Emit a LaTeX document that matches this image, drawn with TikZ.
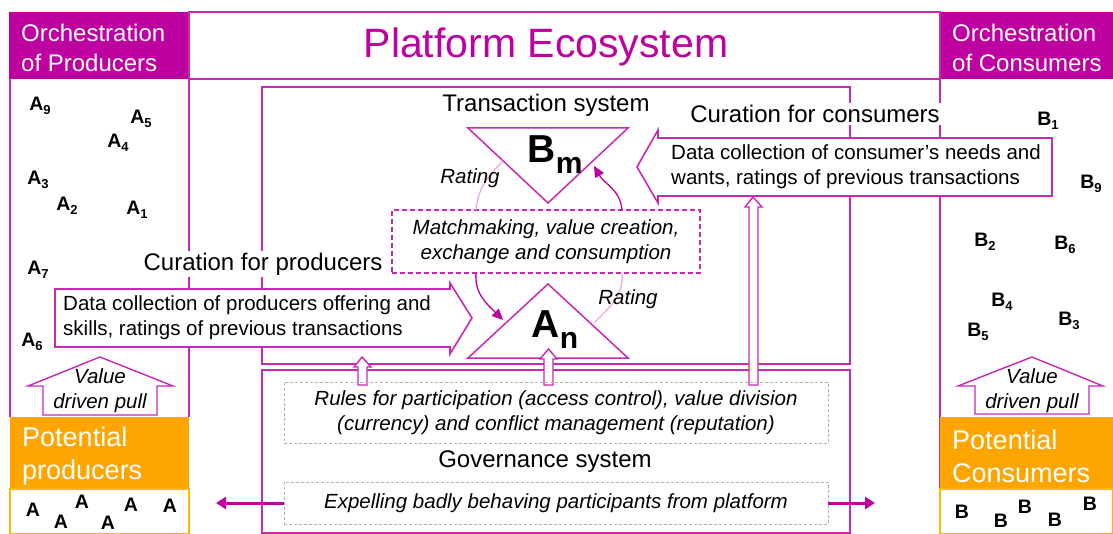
\documentclass[tikz,border=0pt]{standalone}
\usepackage{fontspec}
\setmainfont{Liberation Sans}
\usetikzlibrary{arrows.meta}
\definecolor{mag}{RGB}{190,0,160}
\definecolor{lmag}{RGB}{200,40,180}
\definecolor{pmag}{RGB}{235,170,225}
\definecolor{org}{RGB}{255,165,0}
\newcommand\fsz[2]{\fontsize{#1}{#2}\selectfont}
\newcommand\Lsub[2]{#1\raisebox{-4pt}{\fsz{13}{13}#2}}
\begin{document}
\begin{tikzpicture}[x=1pt,y=-1pt,
  mline/.style={draw=lmag,line width=1.6pt},
  hdr/.style={text=white,font=\fsz{24}{29.5},align=left,anchor=west,inner sep=0pt},
  lbl/.style={font=\fsz{24}{28},fill=white,inner sep=2pt},
  dat/.style={font=\fsz{20.5}{25},align=left,anchor=west,inner sep=0pt},
  itl/.style={font=\itshape\fsz{20.5}{25},align=center,inner sep=0pt},
  ltr/.style={font=\bfseries\fsz{19.5}{22},inner sep=0pt},
  pot/.style={text=white,font=\fsz{27}{33},align=left,anchor=west,inner sep=0pt},
  hollow/.style={draw=lmag,line width=1.4pt,fill=white},
  gbox/.style={draw=gray!60,dash pattern=on 3pt off 2pt,line width=0.8pt},
  thick arrow/.style={draw=mag,line width=3pt,-{Triangle[length=10pt,width=12pt]}}
]
\useasboundingbox (0,0) rectangle (1113,534);
% headers
\fill[mag] (9,12) rectangle (189,79);
\fill[mag] (940,12) rectangle (1113,79);
\node[hdr] (hl) at (21,48) {Orchestration\\of Producers};
\node[hdr] (hr) at (952,48) {Orchestration\\of Consumers};
\draw[mline] (189,12) rectangle (940,79);
\node[font=\fsz{41}{46},text=mag] (title) at (546,47) {Platform Ecosystem};
% column lines
\draw[mline] (10,79) -- (10,417);
\draw[mline] (189,79) -- (189,417);
\draw[mline] (940,79) -- (940,534);
% transaction & governance boxes
\draw[mline] (262,87) rectangle (850,364);
\draw[mline] (262,370) rectangle (850,533);
% potential boxes
\fill[org] (10,417) rectangle (189,489);
\fill[org] (940,417) rectangle (1113,489);
\draw[org!80!yellow,line width=1.2pt] (10,489) rectangle (189,534);
\draw[org!80!yellow,line width=1.2pt] (940,489) rectangle (1113,534);
\node[pot] (pp) at (22,456) {Potential\\producers};
\node[pot] (pc) at (952,456) {Potential\\Consumers};
% transaction system
\node[font=\fsz{24}{28}] (ts) at (546,105) {Transaction system};
\draw[draw=lmag,line width=1.5pt,fill=white] (468,128) -- (628,128) -- (548,203) -- cycle;
\node[font=\bfseries\fsz{39}{40},inner sep=0pt] (bm) at (555,155) {B\raisebox{-11pt}{\fsz{30}{30}m}};
\draw[draw=lmag,line width=1.5pt,fill=white] (468,358) -- (628,358) -- (548,284) -- cycle;
\node[font=\bfseries\fsz{39}{40},inner sep=0pt] (an) at (555,330) {A\raisebox{-11pt}{\fsz{30}{30}n}};
% matchmaking box
\node[draw=lmag,dash pattern=on 5pt off 3pt,line width=1.1pt,fill=white,minimum width=308pt,minimum height=63pt,inner sep=0pt] (mm) at (546,241.5) {};
\node[itl] (mmt) at (546,241.5) {Matchmaking, value creation,\\exchange and consumption};
\coordinate (bmR) at (594,166);
\coordinate (bmL) at (503,161);
\coordinate (anL) at (503,320);
\coordinate (anR) at (594,323);
\draw[draw=mag,line width=1.3pt,-{Triangle[length=11pt,width=10pt]}] (622,210) to[out=95,in=-60] (bmR);
\draw[draw=mag,line width=1.3pt,-{Triangle[length=11pt,width=10pt]}] (476,273) to[out=-95,in=135] (anL);
\draw[draw=pmag,line width=1.3pt] (476,210) to[out=85,in=-135] (bmL);
\draw[draw=pmag,line width=1.3pt] (622,273) to[out=-85,in=45] (anR);
\node[itl] (r1) at (470,178) {Rating};
\node[itl] (r2) at (628,299) {Rating};
% curation for consumers
\node[lbl] (cc) at (815,114) {Curation for consumers};
\draw[hollow,line width=1.6pt] (1052,138) -- (658,138) -- (658,130) -- (637,167) -- (658,203) -- (658,196) -- (1052,196) -- cycle;
\node[dat] (cct) at (671,167) {Data collection of consumer’s needs and\\wants, ratings of previous transactions};
% curation for producers
\node[lbl] (cp) at (263,264) {Curation for producers};
\draw[hollow,line width=1.6pt] (55,289) -- (450,289) -- (450,283) -- (472,318) -- (450,354) -- (450,347) -- (55,347) -- cycle;
\node[dat] (cpt) at (63,318) {Data collection of producers offering and\\skills, ratings of previous transactions};
% hollow up arrows
\draw[hollow] (358,385) -- (358,367) -- (354,367) -- (362,357) -- (371,367) -- (367,367) -- (367,385) -- cycle;
\draw[hollow] (544,385) -- (544,359) -- (540,359) -- (548.5,349) -- (557,359) -- (553,359) -- (553,385) -- cycle;
\draw[hollow] (749,385) -- (749,207) -- (745,207) -- (753,197) -- (762,207) -- (758,207) -- (758,385) -- cycle;
% governance
\node[gbox,minimum width=544pt,minimum height=61pt,inner sep=0pt] (rules) at (556,412.5) {};
\node[itl] (rulest) at (556,412.5) {Rules for participation (access control), value division\\(currency) and conflict management (reputation)};
\node[font=\fsz{24}{28}] (gs) at (545,462) {Governance system};
\node[gbox,minimum width=544pt,minimum height=42pt,inner sep=0pt] (exp) at (556,503) {};
\node[itl] (expt) at (556,503) {Expelling badly behaving participants from platform};
\coordinate (expL) at (216,503);
\coordinate (expR) at (875,503);
\draw[thick arrow] (exp.west) -- (expL);
\draw[thick arrow] (exp.east) -- (expR);
% value driven pull
\draw[hollow] (43,415) -- (43,386) -- (28,386) -- (100,357) -- (173,386) -- (157,386) -- (157,415) -- cycle;
\node[itl] (vl) at (100,391) {Value\\driven pull};
\draw[hollow] (975,414) -- (975,386) -- (958,386) -- (1032,357) -- (1103,386) -- (1089,386) -- (1089,414) -- cycle;
\node[itl] (vr) at (1032,391) {Value\\driven pull};
% A letters
\node[ltr] (a9) at (40,106) {\Lsub{A}{9}};
\node[ltr] (a5) at (141,119) {\Lsub{A}{5}};
\node[ltr] (a4) at (118,143) {\Lsub{A}{4}};
\node[ltr] (a3) at (38,180) {\Lsub{A}{3}};
\node[ltr] (a2) at (67,206) {\Lsub{A}{2}};
\node[ltr] (a1) at (137,210) {\Lsub{A}{1}};
\node[ltr] (a7) at (38,270) {\Lsub{A}{7}};
\node[ltr] (a6) at (32,342) {\Lsub{A}{6}};
\node[ltr] (pa1) at (33,510) {A};
\node[ltr] (pa2) at (61,522) {A};
\node[ltr] (pa3) at (82,502) {A};
\node[ltr] (pa4) at (108,523) {A};
\node[ltr] (pa5) at (131,505) {A};
\node[ltr] (pa6) at (170,506) {A};
% B letters
\node[ltr] (b1) at (1048,121) {\Lsub{B}{1}};
\node[ltr] (b9) at (1091,184) {\Lsub{B}{9}};
\node[ltr] (b2) at (985,242) {\Lsub{B}{2}};
\node[ltr] (b6) at (1065,245) {\Lsub{B}{6}};
\node[ltr] (b4) at (1002,302) {\Lsub{B}{4}};
\node[ltr] (b3) at (1069,321) {\Lsub{B}{3}};
\node[ltr] (b5) at (978,332) {\Lsub{B}{5}};
\node[ltr] (pb1) at (962,512) {B};
\node[ltr] (pb2) at (1001,521) {B};
\node[ltr] (pb3) at (1025,507) {B};
\node[ltr] (pb4) at (1055,520) {B};
\node[ltr] (pb5) at (1090,504) {B};
\end{tikzpicture}
\end{document}
